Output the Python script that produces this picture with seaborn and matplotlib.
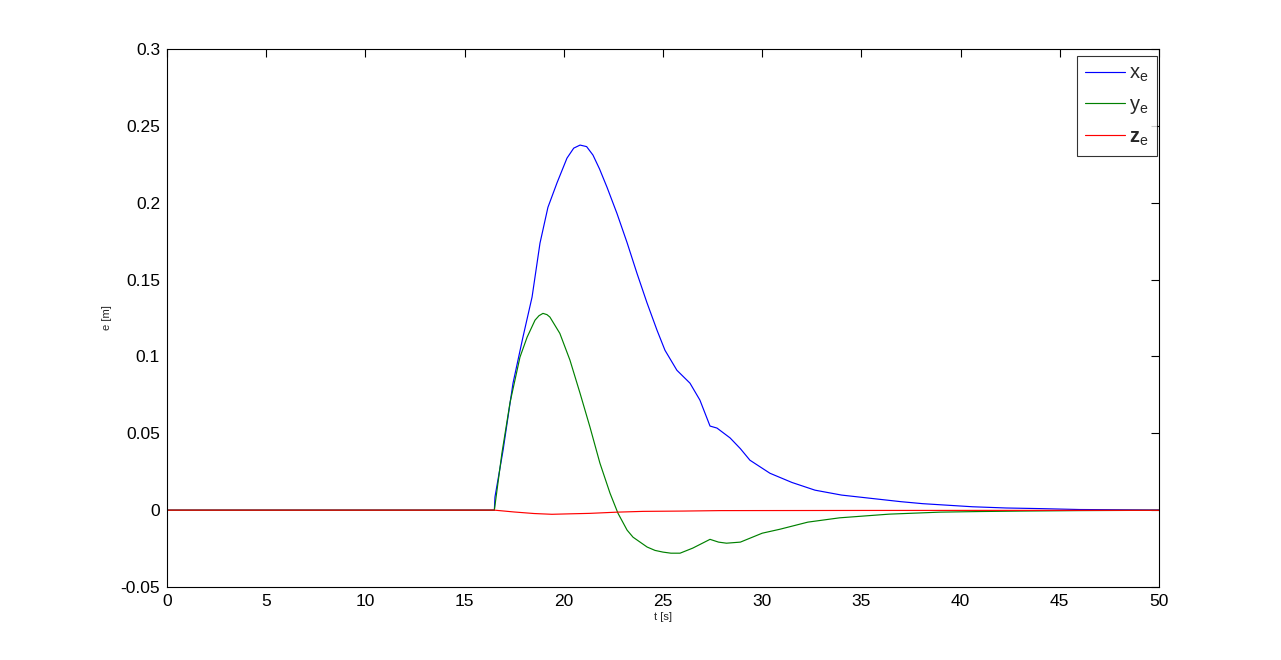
import matplotlib
matplotlib.use("Agg")
import matplotlib.pyplot as plt
import seaborn as sns
import pandas as pd

# ---- data ----
t_x = [0, 16.5, 16.53, 16.94, 17.44, 17.94, 18.4, 18.8, 19.2, 19.66, 20.16, 20.5, 20.82,
       21.15, 21.47, 21.8, 22.18, 22.68, 23.19, 23.69, 24.19, 24.7, 25.1, 25.7, 26.36, 26.86,
       27.37, 27.72, 28.38, 28.9, 29.38, 30.39, 31.5, 32.66, 34.0, 35.6, 37.0, 38.1,
       40.6, 42.3, 44.0, 46.0, 50]
x_e = [0, 0, 0.0085, 0.039, 0.0826, 0.1125, 0.1386, 0.1737, 0.197, 0.213, 0.229, 0.2355, 0.2375,
       0.2365, 0.231, 0.222, 0.210, 0.193, 0.174, 0.154, 0.135, 0.117, 0.104, 0.091, 0.0826, 0.0716,
       0.0547, 0.0534, 0.047, 0.040, 0.0325, 0.024, 0.018, 0.013, 0.0098, 0.0075, 0.0055, 0.0042,
       0.0022, 0.0014, 0.001, 0.0004, 0.0001]

t_y = [0, 16.5, 16.52, 16.88, 17.29, 17.79, 18.15, 18.55, 18.75, 18.95, 19.15, 19.3, 19.8, 20.31,
       20.82, 21.32, 21.82, 22.33, 22.73, 23.19, 23.49, 24.2, 24.6, 25.0, 25.4, 25.86, 26.5, 27.37,
       27.8, 28.2, 28.9, 30.0, 30.9, 32.3, 33.9, 36.4, 38.96, 41.0, 43.1, 46.0, 50]
y_e = [0, 0, 0.002, 0.037, 0.070, 0.0995, 0.1125, 0.1236, 0.1265, 0.128, 0.1272, 0.1256, 0.115, 0.0976,
       0.076, 0.054, 0.0306, 0.011, -0.002, -0.013, -0.0176, -0.024, -0.0262, -0.0273, -0.028, -0.028,
       -0.0247, -0.019, -0.0208, -0.0215, -0.0208, -0.015, -0.0124, -0.0078, -0.005, -0.0026,
       -0.0013, -0.0009, -0.0006, -0.0003, -0.0001]

t_z = [0, 11.8, 16.5, 17.5, 18.5, 19.4, 20.3, 21.3, 22.7, 24.0, 26.0, 27.9, 35, 50]
z_e = [0, 0, 0, -0.0012, -0.0022, -0.0027, -0.0024, -0.0021, -0.0013, -0.0008, -0.0006,
       -0.0003, -0.0002, -0.0001]

series_names = [r'$x_e$', r'$y_e$', r'$\mathbf{z}_e$']
series_colors = ['#0000ff', '#008000', '#ff0000']

x_ticks = [0, 5, 10, 15, 20, 25, 30, 35, 40, 45, 50]
y_ticks = [-0.05, 0, 0.05, 0.1, 0.15, 0.2, 0.25, 0.3]
y_tick_labels = ['-0.05', '0', '0.05', '0.1', '0.15', '0.2', '0.25', '0.3']

frames = [
    pd.DataFrame({'t': t_x, 'e': x_e, 'series': series_names[0]}),
    pd.DataFrame({'t': t_y, 'e': y_e, 'series': series_names[1]}),
    pd.DataFrame({'t': t_z, 'e': z_e, 'series': series_names[2]}),
]
df = pd.concat(frames, ignore_index=True)

sns.set_style("white")
plt.rcParams['font.family'] = ['Liberation Sans', 'DejaVu Sans']
plt.rcParams['mathtext.fontset'] = 'custom'
plt.rcParams['mathtext.rm'] = 'Liberation Sans'
plt.rcParams['mathtext.it'] = 'Liberation Sans'
plt.rcParams['mathtext.bf'] = 'Liberation Sans:bold'

fig = plt.figure(figsize=(12.81, 6.60), dpi=100)
ax = fig.add_axes([167/1281, 1 - 587/660, (1159-167)/1281, (587-49)/660])

sns.lineplot(data=df, x='t', y='e', hue='series', hue_order=series_names,
             palette=dict(zip(series_names, series_colors)), linewidth=0.85,
             sort=False, estimator=None, ax=ax)

ax.set_xlim(0, 50)
ax.set_ylim(-0.05, 0.3)
ax.set_xticks(x_ticks)
ax.set_xticklabels([str(v) for v in x_ticks])
ax.set_yticks(y_ticks)
ax.set_yticklabels(y_tick_labels)
ax.tick_params(direction='in', length=6, width=0.8, top=True, right=True,
               labelsize=12.5, colors='black', pad=5)
for s in ax.spines.values():
    s.set_visible(True)
    s.set_color('black')
    s.set_linewidth(0.8)

ax.set_xlabel('t [s]', fontsize=8, labelpad=2)
ax.set_ylabel('e [m]', fontsize=8, labelpad=6)

leg = ax.legend(loc='upper right', bbox_to_anchor=(0.998, 0.987), borderaxespad=0,
                fontsize=14.5, frameon=True, fancybox=False,
                edgecolor='black', handlelength=2.0,
                labelspacing=0.55, handletextpad=0.22, borderpad=0.4)
leg.get_frame().set_linewidth(0.8)
leg.set_title(None)

fig.savefig('out.png', dpi=100, facecolor='white')
